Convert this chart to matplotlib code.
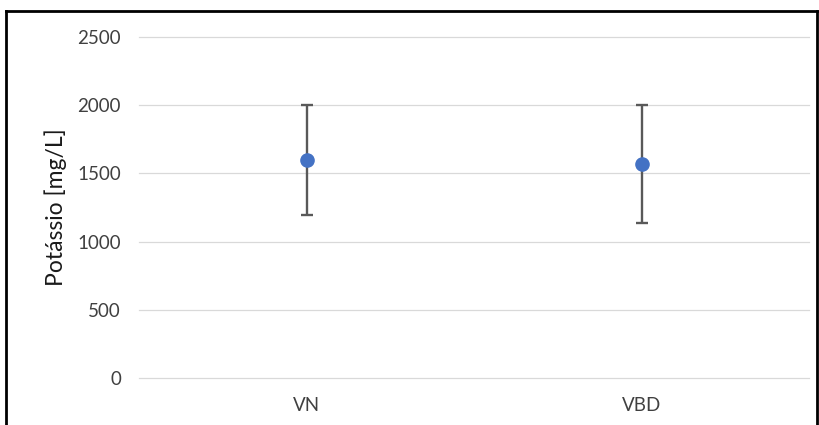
import matplotlib
matplotlib.use('Agg')
import matplotlib.pyplot as plt
from matplotlib.lines import Line2D
import numpy as np

# dados
categorias = ['VN', 'VBD']
media = [1597, 1570]
erro_inf = [400, 430]
erro_sup = [403, 430]
yticks = [0, 500, 1000, 1500, 2000, 2500]

plt.rcParams['font.family'] = ['Lato', 'DejaVu Sans']

fig = plt.figure(figsize=(8.2, 4.25), dpi=100)
ax = fig.add_axes([139/820, 1 - 378/425, 670/820, (378 - 37)/425])

x = np.arange(len(categorias))
ax.errorbar(x, media, yerr=[erro_inf, erro_sup], fmt='o', color='#4472C4',
            markersize=9.5, ecolor='#595959', elinewidth=1.7, capsize=4,
            capthick=1.7, zorder=3)

ax.set_xlim(-0.5, 1.5)
ax.set_ylim(0, 2500)
ax.set_yticks(yticks)
ax.set_xticks(x)
ax.set_xticklabels(categorias)
ax.grid(axis='y', color='#d9d9d9', linewidth=0.9)
for gl in ax.get_ygridlines():
    gl.set_clip_on(False)
ax.set_axisbelow(True)
for s in ax.spines.values():
    s.set_visible(False)
ax.tick_params(length=0, labelsize=13.5, colors='#404040')
ax.tick_params(axis='y', pad=13)
ax.tick_params(axis='x', pad=14)
ax.set_ylabel('Potássio [mg/L]', fontsize=16.5, color='#1a1a1a')
ax.yaxis.set_label_coords(-0.108, 0.5)

# moldura
lw = 2
fig.add_artist(Line2D([6/820, 6/820], [0, 1 - 11/425], color='black', lw=lw))
fig.add_artist(Line2D([6/820, 817/820], [1 - 11/425, 1 - 11/425], color='black', lw=lw))
fig.add_artist(Line2D([817/820, 817/820], [0, 1 - 11/425], color='black', lw=lw))

fig.savefig('out.png', dpi=100)
